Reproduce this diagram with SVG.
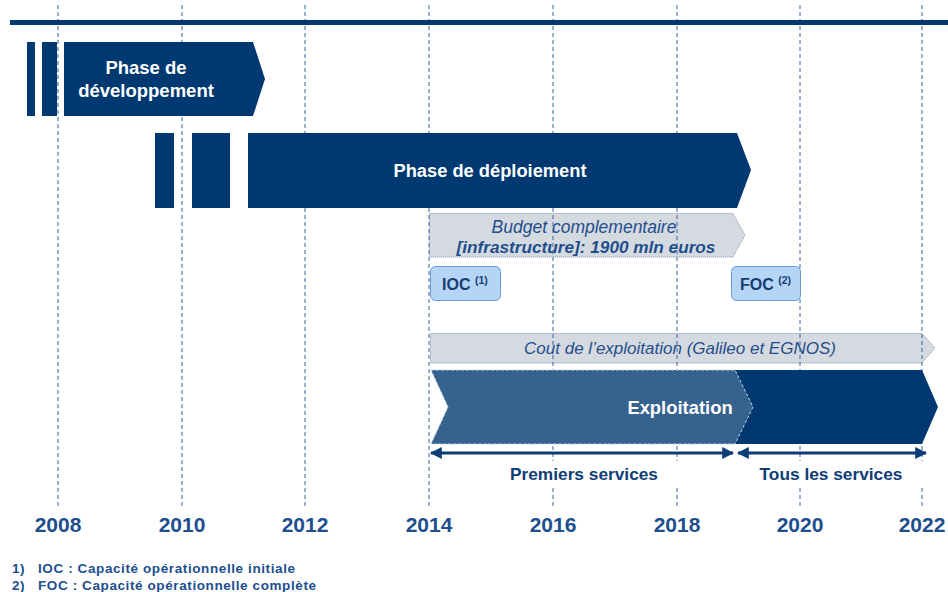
<svg xmlns="http://www.w3.org/2000/svg" width="948" height="592" viewBox="0 0 948 592">
<style>
.grid{stroke:#34669f;stroke-width:1;stroke-dasharray:4,3;fill:none}
.dark{fill:#003871}
.gray{fill:#d5dae1;stroke:#7f93b3;stroke-width:1;stroke-dasharray:1,1}
.wt{font-family:"Liberation Sans",Arial,sans-serif;font-weight:bold;fill:#ffffff;text-anchor:middle}
.it{font-family:"Liberation Sans",Arial,sans-serif;font-style:italic;fill:#1f4e8c;text-anchor:middle}
.yr{font-family:"Liberation Sans",Arial,sans-serif;font-weight:bold;font-size:21px;fill:#1d4e8e;text-anchor:middle}
.lbl{font-family:"Liberation Sans",Arial,sans-serif;font-weight:bold;font-size:17.3px;fill:#0f3d76;text-anchor:middle}
.ms{fill:#b5d5f7;stroke:#6b9bd6;stroke-width:1}
.mt{font-family:"Liberation Sans",Arial,sans-serif;font-weight:bold;font-size:16px;fill:#163d72}
.fn{font-family:"Liberation Sans",Arial,sans-serif;font-weight:bold;font-size:13.5px;letter-spacing:0.6px;fill:#1d4e8e}
.arr{stroke:#0d3d78;stroke-width:3;fill:none}
</style>
<defs>
<marker id="ah" viewBox="0 0 10 10" refX="9" refY="5" markerWidth="4" markerHeight="4" orient="auto-start-reverse" markerUnits="strokeWidth">
<path d="M0,0 L10,5 L0,10 z" fill="#0d3d78"/>
</marker>
</defs>
<rect width="948" height="592" fill="#ffffff"/>

<g id="budget">
<path class="gray" d="M429.5,213.5 H733 L745,235 L733,257 H429.5 Z"/>
<text class="it" x="584" y="233" font-size="17.5">Budget complementaire</text>
<text class="it" x="586" y="253" font-size="17.2" font-weight="bold">[infrastructure]: 1900 mln euros</text>
</g>
<g id="cout">
<path class="gray" d="M430.5,333.5 H922 L935,348 L922,363 H430.5 Z"/>
<text class="it" x="680" y="354" font-size="17">Cout de l’exploitation (Galileo et EGNOS)</text>
</g>

<g id="grid">
<line class="grid" x1="58" y1="5" x2="58" y2="507"/>
<line class="grid" x1="182" y1="5" x2="182" y2="507"/>
<line class="grid" x1="305" y1="5" x2="305" y2="507"/>
<line class="grid" x1="429" y1="5" x2="429" y2="507"/>
<line class="grid" x1="553" y1="5" x2="553" y2="507"/>
<line class="grid" x1="677" y1="5" x2="677" y2="507"/>
<line class="grid" x1="800" y1="5" x2="800" y2="507"/>
<line class="grid" x1="922" y1="5" x2="922" y2="507"/>
</g>

<rect x="10" y="20" width="938" height="5" fill="#003871"/>

<g id="dev">
<rect class="dark" x="27" y="42" width="8" height="74"/>
<rect class="dark" x="42" y="42" width="15" height="74"/>
<path class="dark" d="M64,42 H253 L265,79 L253,116 H64 Z"/>
<text class="wt" x="146" y="74" font-size="18.5">Phase de</text>
<text class="wt" x="146" y="97" font-size="18.5">développement</text>
</g>

<g id="deploy">
<rect class="dark" x="155" y="133" width="19" height="75"/>
<rect class="dark" x="192" y="133" width="38" height="75"/>
<path class="dark" d="M248,133 H737 L751,170 L737,208 H248 Z"/>
<text class="wt" x="490" y="177" font-size="18.3">Phase de déploiement</text>
</g>

<g id="ioc">
<rect class="ms" x="430.5" y="266.5" width="70" height="34" rx="5"/>
<text class="mt" x="442" y="290">IOC <tspan font-size="10.5" dy="-6">(1)</tspan></text>
</g>
<g id="foc">
<rect class="ms" x="731.5" y="266.5" width="69" height="34" rx="5"/>
<text class="mt" x="740" y="290">FOC <tspan font-size="10.5" dy="-6">(2)</tspan></text>
</g>

<g id="exploitation">
<path class="dark" d="M735,370 H922 L938,407 L922,444 H735 Z"/>
<path d="M431,370 H735 L753,407 L735,444 H431 L448,407 Z" fill="#35628f" stroke="#c9d3e0" stroke-width="1" stroke-dasharray="3,2"/>
<text class="wt" x="680" y="414" font-size="18.4">Exploitation</text>
</g>

<g id="connectors">
<line class="arr" x1="431" y1="453" x2="733" y2="453" marker-start="url(#ah)" marker-end="url(#ah)"/>
<line class="arr" x1="738" y1="453" x2="926" y2="453" marker-start="url(#ah)" marker-end="url(#ah)"/>
</g>

<g id="labels">
<rect x="436" y="461" width="292" height="26" fill="#ffffff"/>
<rect x="742" y="461" width="192" height="26" fill="#ffffff"/>
<text class="lbl" x="584" y="480">Premiers services</text>
<text class="lbl" x="831" y="480">Tous les services</text>
</g>

<g id="years">
<text class="yr" x="58" y="532">2008</text>
<text class="yr" x="182" y="532">2010</text>
<text class="yr" x="305" y="532">2012</text>
<text class="yr" x="429" y="532">2014</text>
<text class="yr" x="553" y="532">2016</text>
<text class="yr" x="677" y="532">2018</text>
<text class="yr" x="800" y="532">2020</text>
<text class="yr" x="922" y="532">2022</text>
</g>

<g id="footnotes">
<text class="fn" x="12" y="573">1)</text>
<text class="fn" x="38" y="573">IOC : Capacité opérationnelle initiale</text>
<text class="fn" x="12" y="590">2)</text>
<text class="fn" x="38" y="590">FOC : Capacité opérationnelle complète</text>
</g>
</svg>
